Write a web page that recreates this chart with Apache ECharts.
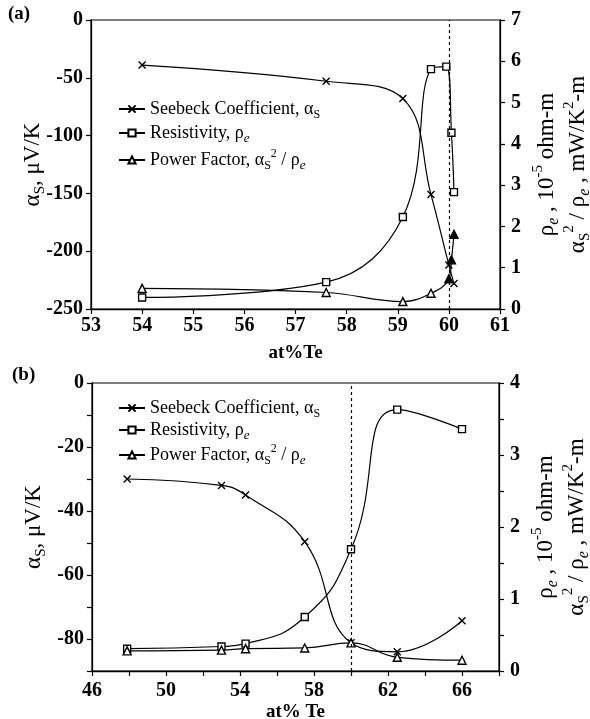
<!DOCTYPE html>
<html>
<head>
<meta charset="utf-8">
<script src="https://cdn.jsdelivr.net/npm/echarts@6/dist/echarts.min.js"></script>
<style>
  html, body { margin: 0; padding: 0; background: #fff; }
  #main { width: 590px; height: 719px; }
</style>
</head>
<body>
<div id="main"></div>
<script>
// (a) 数据
var xSeebeckA = [54, 57.6, 59.1, 59.65, 60.0, 60.1];
var seebeckA = [-39, -53, -68, -151, -212, -228];
var xResA = [54, 57.6, 59.1, 59.65, 59.95, 60.05, 60.1];
var resA = [0.28, 0.65, 2.23, 5.81, 5.87, 4.27, 2.83];
var xPfA = [54, 57.6, 59.1, 59.65, 60.0, 60.05, 60.1];
var pfA = [0.50, 0.40, 0.18, 0.38, 0.73, 1.19, 1.81];

// (b) 数据
var xB = [47.9, 53, 54.3, 57.5, 60, 62.5, 66];
var seebeckB = [-30, -32, -35, -49.6, -81.2, -84, -74.3];
var resB = [0.31, 0.34, 0.38, 0.75, 1.69, 3.63, 3.36];
var pfB = [0.28, 0.29, 0.31, 0.32, 0.39, 0.19, 0.15];

var names = ['Seebeck Coefficient', 'Resistivity', 'Power Factor'];
var legendText = {
  'Seebeck Coefficient': '{n|Seebeck Coefficient, α}{s|S}',
  'Resistivity': '{n|Resistivity, ρ}{e|e}',
  'Power Factor': '{n|Power Factor, α}{s|S}{sup|2}{n| / ρ}{e|e}'
};

function pairs(xs, ys) {
  return xs.map(function (x, i) { return [x, ys[i]]; });
}

var FONT = 'Liberation Serif';
var rich = {
  n: { fontFamily: FONT, fontSize: 18, color: '#000', lineHeight: 24 },
  s: { fontFamily: FONT, fontSize: 12, color: '#000', lineHeight: 12, verticalAlign: 'bottom' },
  e: { fontFamily: FONT, fontSize: 13, fontStyle: 'italic', color: '#000', lineHeight: 12, verticalAlign: 'bottom' },
  sup: { fontFamily: FONT, fontSize: 12, color: '#000', lineHeight: 12, verticalAlign: 'top' }
};
var nameRich = {
  n: { fontFamily: FONT, fontSize: 23, color: '#000', lineHeight: 31 },
  s: { fontFamily: FONT, fontSize: 15, color: '#000', lineHeight: 15, verticalAlign: 'bottom' },
  e: { fontFamily: FONT, fontSize: 16, fontStyle: 'italic', color: '#000', lineHeight: 15, verticalAlign: 'bottom' },
  sup: { fontFamily: FONT, fontSize: 15, color: '#000', lineHeight: 15, verticalAlign: 'top' }
};

var crossPath = 'path://M0,0L10,10M10,0L0,10';
var symbols = {
  'Seebeck Coefficient': { symbol: crossPath, size: 7 },
  'Resistivity': { symbol: 'rect', size: 7 },
  'Power Factor': { symbol: 'triangle', size: 8 }
};

function axisCommon() {
  return {
    axisLine: { show: true, onZero: false, lineStyle: { color: '#000', width: 1.3 } },
    axisTick: { show: true, length: 5, lineStyle: { color: '#000', width: 1.2 } },
    splitLine: { show: false },
    axisLabel: { color: '#000', fontFamily: FONT, fontSize: 20, fontWeight: 'bold', margin: 7 },
    nameMoveOverlap: false
  };
}

function xAxis(idx, min, max, interval, fmt, nameStr, margin, gap) {
  var a = axisCommon();
  a.type = 'value';
  a.gridIndex = idx;
  a.min = min; a.max = max; a.interval = interval;
  a.axisLabel.margin = margin;
  if (fmt) a.axisLabel.formatter = fmt;
  a.name = nameStr;
  a.nameLocation = 'middle';
  a.nameGap = gap;
  a.nameTextStyle = { color: '#000', fontFamily: FONT, fontSize: 19, fontWeight: 'bold' };
  return a;
}

function yAxis(idx, pos, min, max, interval, fmt, nameStr, gap) {
  var a = axisCommon();
  a.type = 'value';
  a.gridIndex = idx;
  a.position = pos;
  a.min = min; a.max = max; a.interval = interval;
  a.axisLabel.margin = pos === 'left' ? 8 : 11;
  if (fmt) a.axisLabel.formatter = fmt;
  a.name = nameStr;
  a.nameLocation = 'middle';
  a.nameRotate = 90;
  a.nameGap = gap;
  a.nameTextStyle = { rich: nameRich, align: 'center' };
  return a;
}

function line(name, xi, yi, data, smooth) {
  var s = symbols[name];
  return {
    name: name,
    type: 'line',
    xAxisIndex: xi,
    yAxisIndex: yi,
    data: data,
    smooth: smooth,
    symbol: s.symbol,
    symbolSize: s.size,
    showAllSymbol: true,
    lineStyle: { color: '#000', width: 1.2 },
    itemStyle: { color: '#fff', borderColor: '#000', borderWidth: 1.4 },
    emphasis: { disabled: true },
    z: 3
  };
}

function vline(xi, yi, x) {
  return {
    type: 'line', xAxisIndex: xi, yAxisIndex: yi, data: [], silent: true,
    markLine: {
      silent: true, symbol: 'none', label: { show: false },
      lineStyle: { color: '#000', type: [3, 3], width: 1.2 },
      data: [{ xAxis: x }]
    }
  };
}

// 60 at% 以上的功率因子点为实心
var pfAData = pairs(xPfA, pfA).map(function (p) {
  return p[0] >= 60 ? { value: p, itemStyle: { color: '#000' } } : p;
});

var rightNameStr = '{n|ρ}{e|e}{n| , 10}{sup|-5}{n| ohm-m}\n{n|α}{s|S}{sup|2}{n| / ρ}{e|e}{n| , mW/K}{sup|2}{n|-m}';
var leftNameStr = '{n|α}{s|S}{n|, μV/K}';

var myChart = echarts.init(document.getElementById('main'));

var option = {
  animation: false,
  backgroundColor: '#fff',
  grid: [
    { left: 91, top: 20, width: 409, height: 289, outerBoundsMode: 'none', show: true, borderColor: '#000', borderWidth: 1.2 },
    { left: 92, top: 383, width: 407, height: 288, outerBoundsMode: 'none', show: true, borderColor: '#000', borderWidth: 1.2 }
  ],
  legend: [
    {
      orient: 'vertical', left: 113, top: 95, itemWidth: 26, itemHeight: 9, itemGap: 3,
      data: names, selectedMode: false,
      formatter: function (n) { return legendText[n]; },
      textStyle: { rich: rich }
    },
    {
      orient: 'vertical', left: 113, top: 394, itemWidth: 26, itemHeight: 9, itemGap: 1,
      data: names, selectedMode: false,
      formatter: function (n) { return legendText[n]; },
      textStyle: { rich: rich }
    }
  ],
  xAxis: [
    xAxis(0, 53, 61, 1, null, 'at%Te', 7, 35),
    xAxis(1, 46, 68, 2, function (v) { return (v - 46) % 4 === 0 ? v : ''; }, 'at% Te', 10, 32)
  ],
  yAxis: [
    yAxis(0, 'left', -250, 0, 50, null, leftNameStr, 43),
    yAxis(0, 'right', 0, 7, 1, null, rightNameStr, 31),
    yAxis(1, 'left', -90, 0, 10, function (v) { return v % 20 === 0 ? v : ''; }, leftNameStr, 43),
    yAxis(1, 'right', 0, 4, 0.5, function (v) { return v % 1 === 0 ? v : ''; }, rightNameStr, 31)
  ],
  graphic: [
    { type: 'text', left: 8, top: 5, style: { text: '(a)', font: 'bold 19px "Liberation Serif"', fill: '#000' } },
    { type: 'text', left: 12, top: 366, style: { text: '(b)', font: 'bold 19px "Liberation Serif"', fill: '#000' } }
  ],
  series: [
    vline(0, 1, 60),
    line('Seebeck Coefficient', 0, 0, pairs(xSeebeckA, seebeckA), 0.4),
    line('Resistivity', 0, 1, pairs(xResA, resA), 0.4),
    line('Power Factor', 0, 1, pfAData, 0.4),
    vline(1, 3, 60),
    line('Seebeck Coefficient', 1, 2, pairs(xB, seebeckB), 0.45),
    line('Resistivity', 1, 3, pairs(xB, resB), 0.5),
    line('Power Factor', 1, 3, pairs(xB, pfB), 0.45)
  ]
};

myChart.setOption(option);
</script>
</body>
</html>
